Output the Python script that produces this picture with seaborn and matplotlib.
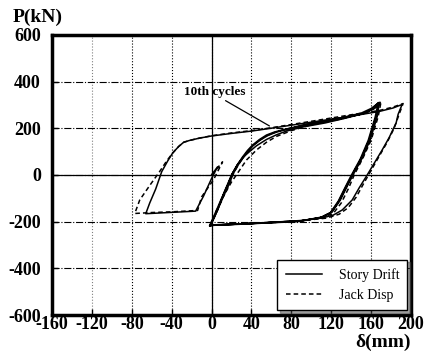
import pandas as pd
import numpy as np
import matplotlib
matplotlib.use('Agg')
import matplotlib.pyplot as plt
import seaborn as sns
from matplotlib.lines import Line2D

# Story Drift (solid): trayectoria completa
drift_x = [0, 6, 0, -8, -16, -30, -50, -66,
           -62, -56, -50, -44, -39, -33, -28, -22, -12, 0, 20, 40, 61, 100, 140, 168, 182, 191,
           187, 185, 178, 171, 163, 156, 148, 141, 131, 122, 110, 90, 60, 30, 0, -2,
           4, 10, 16, 21, 26, 31, 36, 41, 48, 55, 63, 71, 90, 110, 130, 150, 160, 168,
           165, 158, 150, 141, 135, 128, 120, 110, 88, 60, 30, 0, -2,
           5, 11, 17, 22, 27, 32, 37, 42, 49, 56, 64, 72, 90, 112, 132, 152, 162, 167,
           164, 157, 149, 140, 134, 127, 119, 109, 88, 60, 30, 1, -1,
           6, 13, 20, 26, 32, 38, 45, 55, 65, 75, 92, 114, 134, 153, 163, 168,
           166, 159, 151, 142, 136, 129, 121, 111, 89, 60, 30, 0]
drift_y = [0, 35, -15, -90, -155, -158, -162, -166,
           -120, -60, 14, 60, 94, 122, 140, 148, 158, 167, 178, 188, 201, 226, 252, 272, 287, 302,
           260, 223, 160, 107, 50, 0, -55, -107, -150, -172, -185, -195, -203, -210, -215, -218,
           -160, -100, -45, 8, 45, 77, 105, 128, 152, 171, 184, 193, 212, 228, 245, 265, 285, 311,
           250, 150, 70, 0, -50, -110, -160, -182, -198, -204, -210, -215, -218,
           -160, -100, -45, 8, 45, 76, 104, 127, 150, 168, 182, 192, 210, 226, 244, 263, 283, 309,
           248, 148, 68, -2, -52, -112, -162, -183, -199, -205, -211, -216, -219,
           -150, -70, 0, 45, 77, 100, 125, 152, 172, 188, 206, 223, 243, 264, 284, 306,
           250, 150, 72, 2, -48, -108, -158, -180, -197, -203, -209, -214]

# Jack Disp (dashed)
jack_x = [0, 11, 2, -10, -14, -40, -60, -77,
          -72, -62, -52, -45, -39, -33, -28, -22, -12, 0, 20, 40, 61, 100, 140, 168, 182, 192,
          188, 183, 176, 168, 160, 152, 145, 137, 128, 115, 90, 60, 30, 0, -1,
          4, 12, 20, 28, 35, 45, 55, 65, 80, 100, 130, 155, 165, 170,
          167, 160, 152, 143, 137, 130, 122, 110, 88, 60, 30, 0, -1,
          5, 11, 17, 22, 27, 32, 37, 42, 49, 56, 64, 72, 90, 112, 132, 152, 162, 168,
          165, 158, 150, 141, 135, 128, 120, 110, 88, 60, 30, 0]
jack_y = [0, 56, -20, -94, -152, -158, -161, -165,
          -107, -45, 15, 60, 94, 122, 140, 148, 158, 168, 180, 190, 203, 230, 258, 276, 291, 306,
          260, 200, 140, 80, 20, -40, -95, -140, -168, -185, -196, -203, -210, -215, -217,
          -160, -90, -30, 20, 64, 107, 140, 165, 190, 215, 240, 268, 290, 316,
          250, 150, 75, 0, -60, -120, -165, -183, -198, -204, -210, -215, -217,
          -160, -100, -45, 8, 45, 77, 105, 128, 151, 170, 183, 193, 211, 227, 245, 265, 286, 312,
          250, 150, 70, 0, -50, -110, -160, -182, -198, -204, -210, -215]

x_ticks = [-160, -120, -80, -40, 0, 40, 80, 120, 160, 200]
y_ticks = [-600, -400, -200, 0, 200, 400, 600]

df = pd.concat([
    pd.DataFrame({'delta': drift_x, 'P': drift_y, 'series': 'Story Drift'}),
    pd.DataFrame({'delta': jack_x, 'P': jack_y, 'series': 'Jack Disp'}),
])

serif = ['Liberation Serif', 'DejaVu Serif']

fig = plt.figure(figsize=(4.26, 3.6), dpi=100)
ax = fig.add_axes([0.122, 0.125, 0.843, 0.778])

# rejilla: verticales punteadas, horizontales punto-raya
ax.xaxis.grid(True, linestyle=':', color='black', lw=0.8)
ax.yaxis.grid(True, linestyle='-.', color='black', lw=0.8)
ax.set_axisbelow(True)
ax.axhline(0, color='black', lw=0.9, zorder=1)
ax.axvline(0, color='black', lw=0.9, zorder=1)

sns.lineplot(data=df, x='delta', y='P', style='series', sort=False, estimator=None,
             dashes={'Story Drift': '', 'Jack Disp': (3, 2)}, color='black', lw=1.1,
             ax=ax, legend=False, zorder=3)

ax.set_xlim(-160, 200)
ax.set_ylim(-600, 600)
ax.set_xticks(x_ticks)
ax.set_yticks(y_ticks)
ax.set_xticklabels([str(t) for t in x_ticks], family=serif, fontweight='bold', fontsize=13)
ax.set_yticklabels([str(t) for t in y_ticks], family=serif, fontweight='bold', fontsize=13)
ax.tick_params(direction='in', length=4, width=1, pad=1)
ax.tick_params(axis='y', pad=8)
ax.get_xgridlines()[1].set_color('gray')
ax.set_xlabel('')
ax.set_ylabel('')
for s in ax.spines.values():
    s.set_linewidth(2.5)
    s.set_color('black')

ax.annotate('10th cycles', xy=(58, 210), xytext=(3, 356), ha='center', va='center',
            family=serif, fontweight='bold', fontsize=9.5,
            arrowprops=dict(arrowstyle='-', color='black', lw=0.9, relpos=(0.6, 0.0), shrinkA=0, shrinkB=0))

handles = [Line2D([], [], color='black', lw=1.1, ls='-'),
           Line2D([], [], color='black', lw=1.1, ls=(0, (3, 2)))]
leg = ax.legend(handles, ['Story Drift', 'Jack Disp'], loc='lower right',
                bbox_to_anchor=(0.99, 0.018), borderaxespad=0, fancybox=False, shadow=True,
                edgecolor='black', framealpha=1, handlelength=2.6, handletextpad=1.2,
                labelspacing=0.5, borderpad=0.6, prop={'family': serif, 'size': 10})
leg.get_frame().set_linewidth(1.0)

fig.text(0.089, 0.953, 'P(kN)', ha='center', va='center', family=serif, fontweight='bold', fontsize=14)
fig.text(0.899, 0.05, 'δ(mm)', ha='center', va='center', family=serif, fontweight='bold', fontsize=14)

plt.savefig('out.png', dpi=100)
plt.close()
